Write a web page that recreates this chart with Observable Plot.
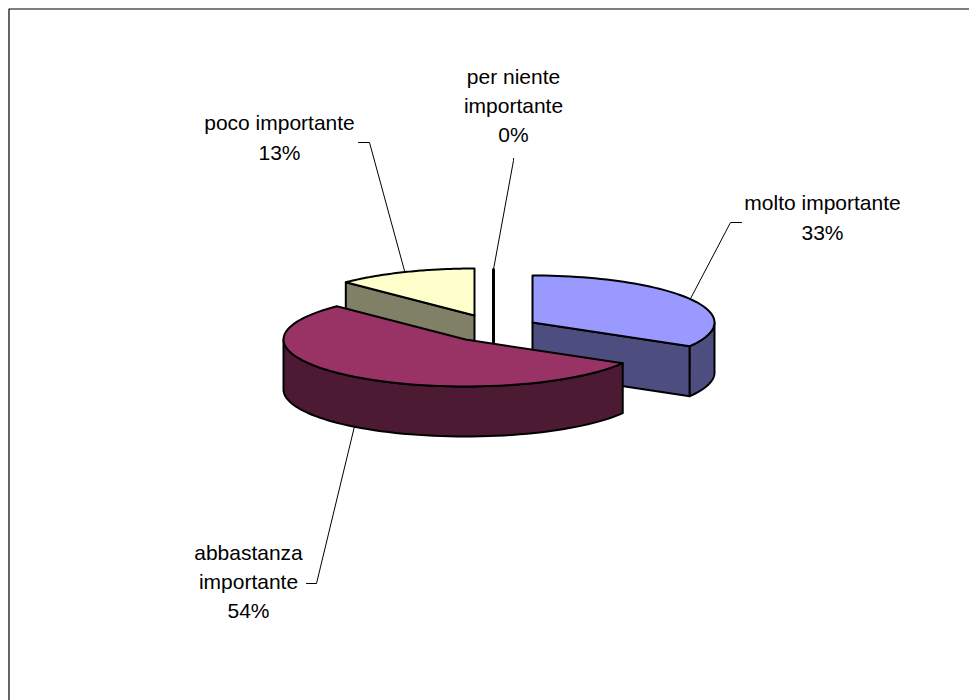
<!DOCTYPE html>
<html><head><meta charset="utf-8">
<script src="https://cdn.jsdelivr.net/npm/d3@7"></script>
<script src="https://cdn.jsdelivr.net/npm/@observablehq/plot@0.6"></script>
<style>html,body{margin:0;padding:0;background:#fff}svg{display:block}</style>
</head><body><div id="chart"></div>
<script>
const categories = ["molto importante", "abbastanza importante", "poco importante", "per niente importante"];
const values = [33.4, 54.1, 12.5, 0];
const shownPercent = ["33%", "54%", "13%", "0%"];
const labelLines = ["molto importante", "abbastanza\nimportante", "poco importante", "per niente\nimportante"];
const topColors = ["#9999FF", "#993366", "#FFFFCC", "#000000"];
const sideColors = ["#4D4D80", "#4D1A33", "#808066", "#000000"];

// layout of the exploded 3-D pie, in pixels
const RX = 182, RY = 47, DEPTH = 50;
const apex = [[532, 322], [465, 339], [474, 315], [493, 316]];
const labelAt = [[822, 219], [248, 583], [279, 139], [513, 107]];
const elbow = [[730, 222], [316, 583], [369, 142], [513, 160]];
const tail = [[741, 222], [306, 583], [358, 142], [513, 158]];
const FONT = "'Liberation Sans', Arial, sans-serif";

const total = d3.sum(values);
let acc = 0;
const spans = values.map(v => { const a0 = acc / total * 360; acc += v; return [a0, acc / total * 360]; });
const rad = d => d * Math.PI / 180;
const rim = (i, deg, drop = 0) => [apex[i][0] + RX * Math.sin(rad(deg)), apex[i][1] - RY * Math.cos(rad(deg)) + drop];
const arc = (i, a0, a1, drop = 0) => d3.range(0, 61).map(k => rim(i, a0 + (a1 - a0) * k / 60, drop));

const shapes = [];
const shape = (pts, fill) => shapes.push({pts: [...pts, pts[0]], fill});

// poco importante (back left)
{ const i = 2, [a0, a1] = spans[i], A = apex[i], R = rim(i, a0);
  shape([R, A, [A[0], A[1] + DEPTH], [R[0], R[1] + DEPTH]], sideColors[i]);
  shape([A, ...arc(i, a0, a1)], topColors[i]); }
// molto importante (right)
{ const i = 0, [a0, a1] = spans[i], A = apex[i], R = rim(i, a1);
  shape([A, [A[0], A[1] + DEPTH], [R[0], R[1] + DEPTH], R], sideColors[i]);
  shape([...arc(i, 90, a1), ...arc(i, a1, 90, DEPTH)], sideColors[i]);
  shape([A, ...arc(i, a0, a1)], topColors[i]); }
// abbastanza importante (front)
{ const i = 1, [a0, a1] = spans[i], A = apex[i];
  shape([...arc(i, a0, 270), ...arc(i, 270, a0, DEPTH)], sideColors[i]);
  shape([A, ...arc(i, a0, a1)], topColors[i]); }
const face = s => Plot.line(s.pts, {x: d => d[0], y: d => d[1], fill: s.fill, stroke: "#000", strokeWidth: 2, strokeLinejoin: "round"});

// per niente: a zero-width slice seen as a thick black stroke
const zeroTop = rim(3, spans[3][1]);
const zero = [zeroTop, [zeroTop[0], apex[3][1] + 26]];

// leaders
const anchors = [rim(0, (spans[0][0] + spans[0][1]) / 2),
                 rim(1, (spans[1][0] + spans[1][1]) / 2, DEPTH),
                 rim(2, (spans[2][0] + spans[2][1]) / 2),
                 zeroTop];
const leaders = anchors.flatMap((a, i) => [a, elbow[i], tail[i]].map(p => ({i, x: p[0], y: p[1]})));
const labels = categories.map((c, i) => ({text: labelLines[i] + "\n" + shownPercent[i], x: labelAt[i][0], y: labelAt[i][1]}));

const chart = Plot.plot({
  width: 969, height: 700, margin: 0,
  x: {domain: [0, 969], range: [0, 969], axis: null},
  y: {domain: [0, 700], range: [0, 700], axis: null},
  style: {background: "#fff"},
  marks: [
    // frame: open on the right and bottom where the picture is cropped
    Plot.line([{x: 8.5, y: 700}, {x: 8.5, y: 8.5}, {x: 969, y: 8.5}], {x: "x", y: "y", stroke: "#000", strokeWidth: 1.2}),
    ...shapes.slice(0, 2).map(face),
    Plot.line(zero, {x: d => d[0], y: d => d[1], stroke: "#000", strokeWidth: 3}),
    ...shapes.slice(2).map(face),
    Plot.line(leaders, {x: "x", y: "y", z: "i", stroke: "#000", strokeWidth: 1}),
    Plot.text(labels, {x: "x", y: d => d.y - 4, text: "text", fontFamily: FONT, fontSize: 21, lineHeight: 1.4, textAnchor: "middle", fill: "#000"})
  ]
});
document.getElementById("chart").append(chart);
</script></body></html>
